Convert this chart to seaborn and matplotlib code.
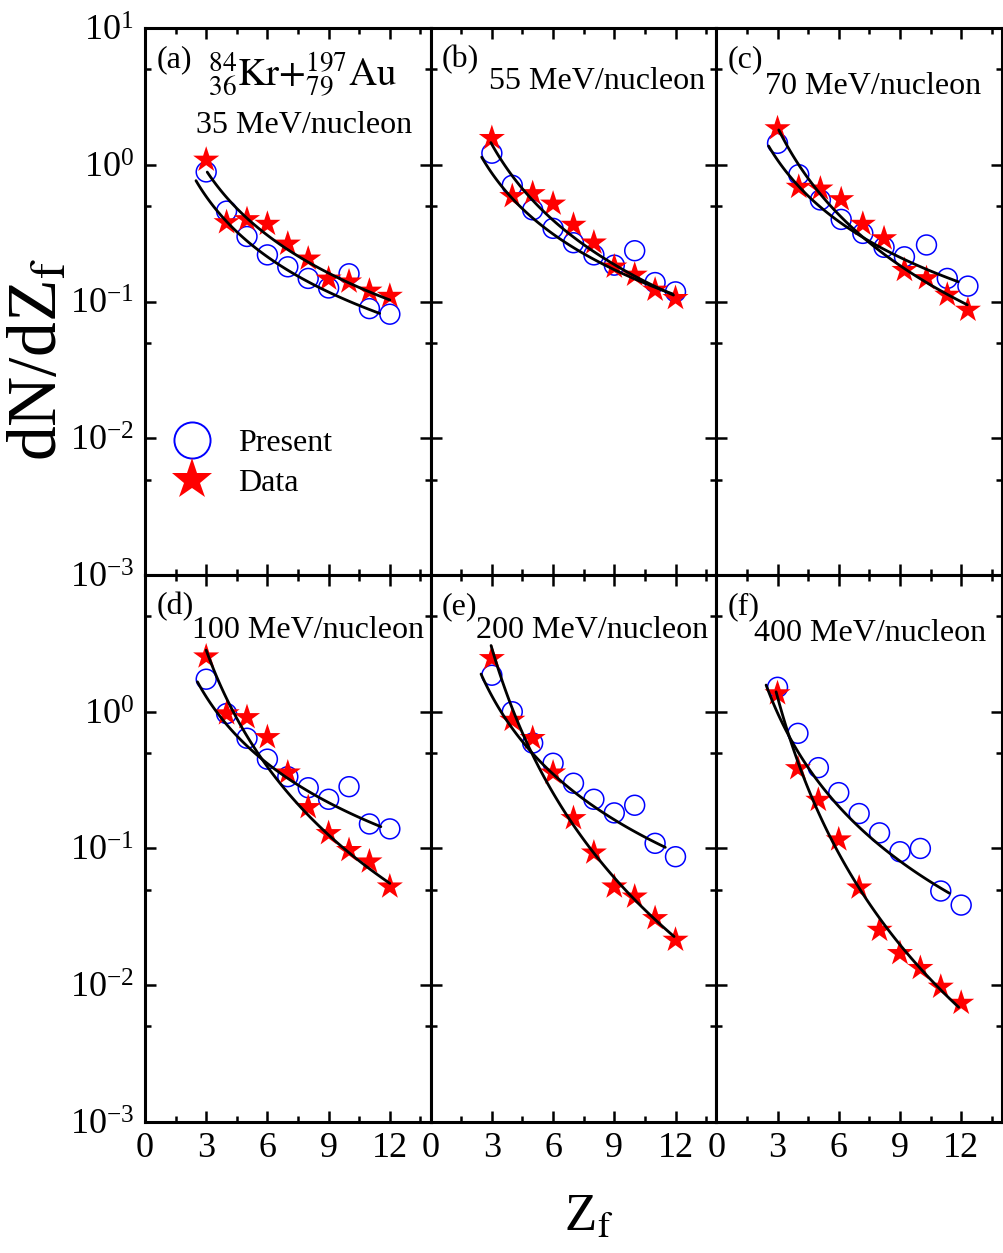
import numpy as np
import pandas as pd
import seaborn as sns
import matplotlib
matplotlib.use("Agg")
import matplotlib.pyplot as plt
from matplotlib.lines import Line2D
from matplotlib.ticker import LogLocator, FixedLocator, NullFormatter

# ---- fragment charge Z_f (panel (c) points sit on a slightly wider grid) ----
z_std = [3, 4, 5, 6, 7, 8, 9, 10, 11, 12]
z_c = [3.0, 4.04, 5.1, 6.12, 7.18, 8.22, 9.22, 10.3, 11.32, 12.33]

# ---- dN/dZ_f : model ("Present") and experiment ("Data") ----
present_a = [0.89, 0.46, 0.30, 0.22, 0.18, 0.148, 0.126, 0.16, 0.089, 0.081]
data_a = [1.09, 0.38, 0.40, 0.37, 0.265, 0.206, 0.147, 0.14, 0.12, 0.11]

present_b = [1.22, 0.71, 0.47, 0.344, 0.27, 0.22, 0.185, 0.236, 0.138, 0.118]
data_b = [1.57, 0.59, 0.62, 0.52, 0.364, 0.27, 0.18, 0.157, 0.122, 0.106]

present_c = [1.44, 0.85, 0.555, 0.40, 0.316, 0.25, 0.213, 0.26, 0.148, 0.13]
data_c = [1.85, 0.69, 0.67, 0.56, 0.37, 0.29, 0.17, 0.148, 0.112, 0.087]

present_d = [1.73, 0.97, 0.64, 0.45, 0.335, 0.278, 0.229, 0.283, 0.151, 0.139]
data_d = [2.53, 0.97, 0.91, 0.65, 0.358, 0.20, 0.129, 0.097, 0.080, 0.0525]

present_e = [1.85, 1.0, 0.59, 0.42, 0.30, 0.229, 0.182, 0.207, 0.109, 0.087]
data_e = [2.46, 0.87, 0.64, 0.358, 0.166, 0.093, 0.0525, 0.0443, 0.0308, 0.0214]

present_f = [1.51, 0.695, 0.39, 0.256, 0.18, 0.13, 0.0946, 0.10, 0.0488, 0.0385]
data_f = [1.36, 0.385, 0.226, 0.116, 0.0516, 0.0253, 0.0171, 0.0133, 0.0097, 0.0074]

# ---- power-law fits  dN/dZ = A * Z^(-tau)  over [z_lo, z_hi] ----
present_fit_A = [2.94, 4.43, 5.60, 7.66, 10.5, 11.9]
present_fit_tau = [1.465, 1.48, 1.492, 1.623, 1.898, 2.272]
present_fit_lo = [2.5, 2.5, 2.56, 2.57, 2.47, 2.44]
present_fit_hi = [11.5, 11.85, 11.85, 11.56, 11.5, 11.42]

data_fit_A = [5.13, 10.7, 19.3, 63.5, 138.7, 82.8]
data_fit_tau = [1.573, 1.842, 2.118, 2.834, 3.517, 3.796]
data_fit_lo = [3.05, 2.95, 3.06, 3.0, 2.96, 2.93]
data_fit_hi = [12.0, 11.9, 12.3, 12.0, 11.93, 11.88]

panel_tags = ["(a)", "(b)", "(c)", "(d)", "(e)", "(f)"]
energies = ["35 MeV/nucleon", "55 MeV/nucleon", "70 MeV/nucleon",
            "100 MeV/nucleon", "200 MeV/nucleon", "400 MeV/nucleon"]
x_ticks = [0, 3, 6, 9, 12]

z_sets = [z_std, z_std, z_c, z_std, z_std, z_std]
present_sets = [present_a, present_b, present_c, present_d, present_e, present_f]
data_sets = [data_a, data_b, data_c, data_d, data_e, data_f]

# ---- style ----
sns.set_theme(style="ticks")
plt.rcParams["font.family"] = ["Liberation Serif", "DejaVu Serif"]
plt.rcParams["mathtext.fontset"] = "stix"
plt.rcParams["axes.linewidth"] = 2.2
for key in ["text.color", "axes.labelcolor", "xtick.color", "ytick.color",
            "axes.edgecolor"]:
    plt.rcParams[key] = "black"

fig = plt.figure(figsize=(10.04, 12.53), dpi=100)
gs = fig.add_gridspec(2, 3, left=0.1444, right=0.998, top=0.9774, bottom=0.1047,
                      wspace=0, hspace=0)

energy_pos = [(0.556, 0.822), (0.584, 0.902), (0.548, 0.893),
              (0.572, 0.898), (0.566, 0.898), (0.5375, 0.894)]

for i in range(6):
    r, c = divmod(i, 3)
    ax = fig.add_subplot(gs[r, c])
    ax.set_facecolor("white")

    df = pd.DataFrame({"Z": z_sets[i], "present": present_sets[i], "data": data_sets[i]})
    sns.scatterplot(data=df, x="Z", y="present", ax=ax, marker="o", s=205,
                    facecolors="none", edgecolor="blue", linewidth=1.1,
                    legend=False, zorder=3)
    sns.scatterplot(data=df, x="Z", y="data", ax=ax, marker="*", s=390,
                    color="red", edgecolor="none", linewidth=0,
                    legend=False, zorder=4)

    zp = np.linspace(present_fit_lo[i], present_fit_hi[i], 120)
    zd = np.linspace(data_fit_lo[i], data_fit_hi[i], 120)
    sns.lineplot(x=zp, y=present_fit_A[i] * zp ** (-present_fit_tau[i]), ax=ax,
                 color="black", linewidth=2.0, estimator=None, zorder=5)
    sns.lineplot(x=zd, y=data_fit_A[i] * zd ** (-data_fit_tau[i]), ax=ax,
                 color="black", linewidth=2.0, estimator=None, zorder=5)

    ax.set_yscale("log")
    ax.set_xlim(0, 14)
    ax.set_ylim(1e-3, 1e1)
    ax.xaxis.set_major_locator(FixedLocator(x_ticks))
    ax.xaxis.set_minor_locator(FixedLocator([1.5, 4.5, 7.5, 10.5, 13.5]))
    ax.yaxis.set_major_locator(FixedLocator([1e-3, 1e-2, 1e-1, 1e0, 1e1]))
    ax.yaxis.set_minor_locator(LogLocator(base=10, subs=[5.0], numticks=20))
    ax.yaxis.set_minor_formatter(NullFormatter())
    ax.tick_params(which="both", direction="in", top=True, right=True,
                   bottom=True, left=True, width=1.8, labelsize=26,
                   color="black", labelcolor="black")
    ax.tick_params(which="major", length=8)
    ax.tick_params(which="minor", length=4.5)
    ax.tick_params(axis="x", pad=7)
    ax.tick_params(axis="y", pad=8)
    if r == 1:
        # the 10^1 tick of the lower row coincides with the row above
        ax.set_yticklabels([r"$\mathdefault{10^{-3}}$", r"$\mathdefault{10^{-2}}$",
                            r"$\mathdefault{10^{-1}}$", r"$\mathdefault{10^{0}}$", ""])
    if c != 0:
        ax.tick_params(axis="y", labelleft=False)
    if r == 0:
        ax.tick_params(axis="x", labelbottom=False)
    ax.set_xlabel("")
    ax.set_ylabel("")
    for sp in ax.spines.values():
        sp.set_visible(True)
        sp.set_color("black")
        sp.set_linewidth(2.2)

    ax.text(0.04, 0.942, panel_tags[i], transform=ax.transAxes, fontsize=23,
            ha="left", va="center")
    ex, ey = energy_pos[i]
    ax.text(ex, ey, energies[i], transform=ax.transAxes, fontsize=23,
            ha="center", va="center")

    if i == 0:
        ax.text(0.55, 0.915, r"${}^{84}_{36}\mathrm{Kr}{+}{}^{197}_{79}\mathrm{Au}$",
                transform=ax.transAxes, fontsize=28, ha="center", va="center")
        handles = [
            Line2D([], [], marker="o", linestyle="none", markersize=26,
                   markerfacecolor="none", markeredgecolor="blue", markeredgewidth=1.4),
            Line2D([], [], marker="*", linestyle="none", markersize=31,
                   markerfacecolor="red", markeredgecolor="red", markeredgewidth=0),
        ]
        ax.legend(handles, ["Present", "Data"], loc="upper left",
                  bbox_to_anchor=(0.096, 0.268), frameon=False, fontsize=23,
                  handlelength=1.2, handletextpad=0.85, labelspacing=0.33,
                  borderpad=0, borderaxespad=0)

fig.text(0.04, 0.713, r"dN/dZ$_\mathrm{f}$", rotation=90, fontsize=50,
         ha="center", va="center")
fig.text(0.586, 0.028, r"Z$_\mathrm{f}$", fontsize=38, ha="center", va="center")

fig.savefig("out.png", dpi=100, facecolor="white")
